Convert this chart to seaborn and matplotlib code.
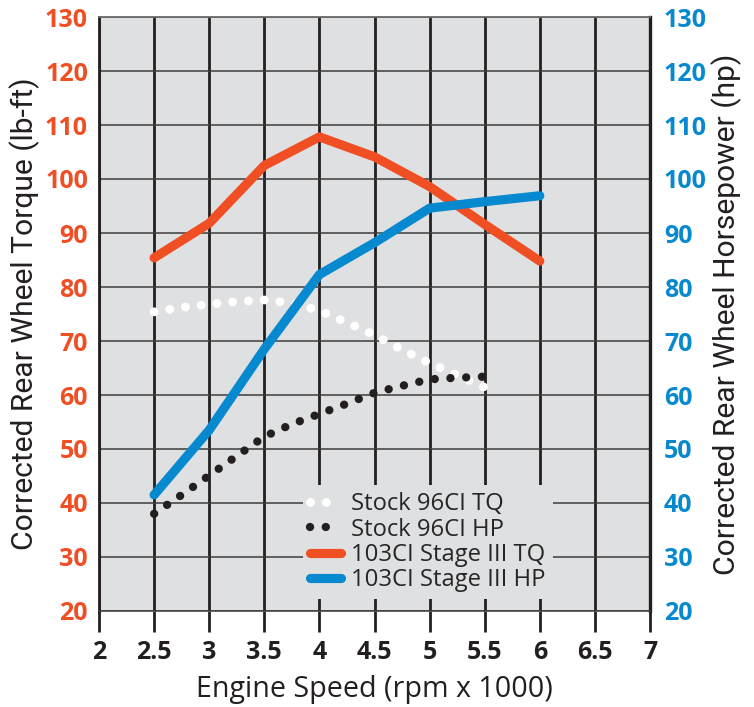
import matplotlib
matplotlib.use("Agg")
import matplotlib.pyplot as plt
import seaborn as sns
import pandas as pd

# engine speed (x1000 rpm) for the solid dyno curves
rpm = [2.5, 3.0, 3.5, 4.0, 4.5, 5.0, 5.5, 6.0]
stage3_tq = [85.4, 91.8, 102.5, 107.8, 104.1, 98.6, 91.6, 84.8]
stage3_hp = [41.5, 53.5, 68.5, 82.3, 88.2, 94.6, 95.8, 96.9]

# stock curves read at quarter steps
rpm_stock = [2.5, 2.75, 3.0, 3.25, 3.5, 3.75, 4.0, 4.25, 4.5, 4.75, 5.0, 5.25, 5.5]
stock_tq = [75.4, 76.2, 76.8, 77.3, 77.6, 77.0, 75.6, 73.4, 71.1, 68.4, 65.9, 63.7, 61.4]
stock_hp = [38.0, 41.5, 45.1, 48.7, 52.3, 54.6, 56.5, 58.4, 60.4, 61.7, 62.9, 63.2, 63.4]

labels = ["Stock 96CI TQ", "Stock 96CI HP", "103CI Stage III TQ", "103CI Stage III HP"]
x_ticks = [2, 2.5, 3, 3.5, 4, 4.5, 5, 5.5, 6, 6.5, 7]
y_ticks = [20, 30, 40, 50, 60, 70, 80, 90, 100, 110, 120, 130]

ORANGE = "#f04e23"
BLUE = "#0789d0"
DARK = "#231f20"
GREY_BG = "#dfe0e2"

sns.set_theme(style="ticks")
plt.rcParams["font.family"] = ["Open Sans", "DejaVu Sans"]

stock = pd.DataFrame({"rpm": rpm_stock, "tq": stock_tq, "hp": stock_hp})
stage = pd.DataFrame({"rpm": rpm, "tq": stage3_tq, "hp": stage3_hp})

fig = plt.figure(figsize=(7.54, 7.07), dpi=100)
ax = fig.add_axes([99 / 754, 96 / 707, 551 / 754, 594 / 707])
ax.set_facecolor(GREY_BG)

# dotted stock curves
sns.lineplot(data=stock, x="rpm", y="tq", ax=ax, color="white", linewidth=6.4,
             linestyle=(0, (0.01, 1.77)), dash_capstyle="round", label=labels[0])
sns.lineplot(data=stock, x="rpm", y="hp", ax=ax, color=DARK, linewidth=6.0,
             linestyle=(0, (0.01, 1.88)), dash_capstyle="round", label=labels[1])
# solid stage III curves
sns.lineplot(data=stage, x="rpm", y="tq", ax=ax, color=ORANGE, linewidth=6.6,
             solid_capstyle="round", label=labels[2])
sns.lineplot(data=stage, x="rpm", y="hp", ax=ax, color=BLUE, linewidth=6.6,
             solid_capstyle="round", label=labels[3])

ax.set_xlim(2, 7)
ax.set_ylim(20, 130)
ax.set_xticks(x_ticks)
ax.set_xticklabels([f"{t:g}" for t in x_ticks])
ax.set_yticks(y_ticks)
ax.set_axisbelow(True)
ax.grid(axis="x", color=DARK, linewidth=2.0)
ax.grid(axis="y", color="#3c3c3c", linewidth=1.1)

ax.tick_params(axis="x", length=15, width=2.0, color=DARK, pad=6,
               labelsize=18, labelcolor=DARK)
ax.tick_params(axis="y", length=0, pad=8, labelsize=18, labelcolor=ORANGE)
for lab in ax.get_xticklabels() + ax.get_yticklabels():
    lab.set_fontweight("bold")

ax.spines["left"].set_color(DARK)
ax.spines["left"].set_linewidth(2.0)
ax.spines["right"].set_color(DARK)
ax.spines["right"].set_linewidth(2.4)
ax.spines["top"].set_color("#6a6a6a")
ax.spines["top"].set_linewidth(1.3)
ax.spines["bottom"].set_color("#3c3c3c")
ax.spines["bottom"].set_linewidth(1.1)

xlab = ax.set_xlabel("Engine Speed (rpm x 1000)", fontsize=20, color=DARK, labelpad=7)
ylab = ax.set_ylabel("Corrected Rear Wheel Torque (lb-ft)", fontsize=20, color=DARK,
                     family="Roboto")
ax.yaxis.set_label_coords(-0.107, 0.5)

ax2 = ax.twinx()
ax2.set_ylim(20, 130)
ax2.set_yticks(y_ticks)
ax2.tick_params(axis="y", length=0, pad=10, labelsize=18, labelcolor=BLUE)
for lab in ax2.get_yticklabels():
    lab.set_fontweight("bold")
for s in ax2.spines.values():
    s.set_visible(False)
ylab2 = ax2.set_ylabel("Corrected Rear Wheel Horsepower (hp)", fontsize=20, color=DARK,
                       family="Roboto")
ax2.yaxis.set_label_coords(1.112, 0.5)

leg = ax.legend(loc="lower left", bbox_to_anchor=(0.370, 0.020), borderaxespad=0,
                frameon=True, facecolor=GREY_BG, edgecolor="none", framealpha=1,
                fontsize=17, handlelength=1.3, handletextpad=0.45, labelspacing=0.05,
                borderpad=0.3)
leg.get_frame().set_boxstyle("square", pad=0)

# fit title sizes to the lengths seen in the reference (pixels)
fig.canvas.draw()
r = fig.canvas.get_renderer()
s = 20 * 472 / ylab.get_window_extent(r).height
ylab.set_fontsize(s)
ylab2.set_fontsize(s)
xlab.set_fontsize(20 * 355 / xlab.get_window_extent(r).width)
ls = 17 * 194 / leg.get_texts()[3].get_window_extent(r).width
for t in leg.get_texts():
    t.set_fontsize(ls)

fig.savefig("out.png", dpi=100)
